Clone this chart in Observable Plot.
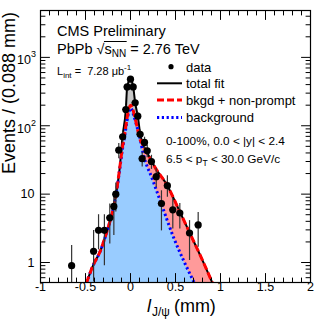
<!DOCTYPE html>
<html><head><meta charset="utf-8">
<script src="https://cdn.jsdelivr.net/npm/d3@7"></script>
<script src="https://cdn.jsdelivr.net/npm/@observablehq/plot@0.6"></script>
<style>
body{margin:0;background:#fff}
svg{font-family:"Liberation Sans",Arial,sans-serif}
</style>
</head><body><div id="chart"></div><script>
// ---- axis settings / tick labels ----
const xDomain = [-1, 2];
const yDomain = [0.51, 4850];
const xTickVals = [-1, -0.5, 0, 0.5, 1, 1.5, 2];
const xTickLabels = ["-1", "-0.5", "0", "0.5", "1", "1.5", "2"];
const yTickVals = [1, 10, 100, 1000];
const yTickBase = ["1", "10", "10", "10"];
const yTickExp = ["", "", "2", "3"];

// ---- data points (l_J/psi in mm, events per bin) ----
const ptX  = [-0.654,-0.41,-0.355,-0.29,-0.23,-0.185,-0.163,-0.13,-0.087,-0.052,-0.037,0.0,0.03,0.052,0.081,0.107,0.13,0.156,0.186,0.233,0.286,0.344,0.41,0.47,0.548,0.656,0.752];
const ptV  = [0.9,1.46,2.96,2.96,4.5,6.6,10,44,69,173,370,480,370,217,138,75,33,57,43,30,18,7.3,13.3,5.9,5.3,2.7,3.55];
const ptLo = [0.3,0.52,1.53,0.9,1.87,2.48,5.5,33,56,152,342,446,342,196,121,63,25,46,34,23,12.5,2.9,9,3.1,3.1,1.07,1.67];
const ptHi = [1.77,2.93,5.0,5.0,7.2,10.8,14.5,55,82,194,398,514,398,238,155,87,41,68,52,37,24,11.2,18.6,8.6,7.3,4.1,5.4];
const binHalf = 0.035;

// ---- fit curves ----
const totalX = [-0.49,-0.42,-0.333,-0.26,-0.20,-0.16,-0.12,-0.089,-0.052,-0.037,-0.015,0.0,0.015,0.03,0.052,0.081,0.111,0.14,0.2,0.278,0.407,0.533,0.667,0.789,0.911];
const totalV = [0.5,0.88,1.5,2.9,5.5,10,24,69,173,370,460,490,450,370,217,138,72,54,37,24,13.5,6.1,2.56,1.16,0.5];
const redX = [-0.49,-0.42,-0.333,-0.26,-0.20,-0.16,-0.12,-0.09,-0.065,-0.04,-0.015,0.005,0.025,0.045,0.07,0.096,0.14,0.2,0.278,0.407,0.533,0.667,0.789,0.911];
const redV = [0.5,0.88,1.5,2.9,5.5,10,24,48,75,125,185,200,175,140,100,69,52,37,24,13.5,6.1,2.56,1.16,0.5];
const blueX = [-0.49,-0.42,-0.333,-0.26,-0.20,-0.16,-0.12,-0.09,-0.065,-0.04,-0.015,0.005,0.03,0.06,0.1,0.148,0.24,0.341,0.48,0.6,0.71];
const blueV = [0.5,0.88,1.5,2.9,5.5,10,23,45,70,115,165,180,150,110,70,36,17,7.3,2.3,1.0,0.5];

const pts = ptX.map((x, i) => ({x, v: ptV[i], lo: ptLo[i], hi: ptHi[i]}));
const total = totalX.map((x, i) => ({x, v: totalV[i]}));
const red = redX.map((x, i) => ({x, v: redV[i]}));
const blue = blueX.map((x, i) => ({x, v: blueV[i]}));

const xMinor = d3.range(-10, 21).map(d => d / 10).filter(d => !xTickVals.includes(d));
const yMinor = [];
for (let k = -1; k <= 3; k++) for (let m = 2; m <= 9; m++) {
  const v = m * Math.pow(10, k);
  if (v >= yDomain[0] && v <= yDomain[1]) yMinor.push(v);
}

const tickShape = {draw(ctx, l) { ctx.moveTo(0, 0); ctx.lineTo(0, -l); }};
function ticks(data, ch, anchor, rot, len) {
  const o = {frameAnchor: anchor, length: len, anchor: "start", shape: tickShape, rotate: rot, stroke: "black", strokeWidth: 1};
  o[ch] = d => d;
  return Plot.vector(data, o);
}

const chart = Plot.plot({
  width: 332, height: 321,
  marginLeft: 40, marginRight: 22, marginTop: 10, marginBottom: 39,
  style: {fontFamily: "Liberation Sans", fontSize: "12.5px", background: "white"},
  x: {domain: xDomain, axis: null},
  y: {type: "log", domain: yDomain, axis: null},
  marks: [
    Plot.areaY(total, {x: "x", y1: yDomain[0], y2: "v", fill: "#c8c8c8", curve: "monotone-x", clip: true}),
    Plot.areaY(red, {x: "x", y1: yDomain[0], y2: "v", fill: "#ff9a9a", curve: "monotone-x", clip: true}),
    Plot.areaY(blue, {x: "x", y1: yDomain[0], y2: "v", fill: "#99ccff", curve: "monotone-x", clip: true}),
    Plot.line(total, {x: "x", y: "v", stroke: "black", strokeWidth: 2, curve: "monotone-x", clip: true}),
    Plot.line(blue, {x: "x", y: "v", stroke: "#0000ff", strokeWidth: 3, strokeDasharray: "2.2,2.6", strokeLinecap: "butt", curve: "monotone-x", clip: true}),
    Plot.line(red, {x: "x", y: "v", stroke: "#ff0000", strokeWidth: 3, strokeDasharray: "7,3", strokeLinecap: "butt", curve: "monotone-x", clip: true}),
    Plot.ruleX(pts, {x: "x", y1: "lo", y2: "hi", stroke: "#333", strokeWidth: 1.2, clip: true}),
    Plot.ruleY(pts, {y: "v", x1: d => d.x - binHalf, x2: d => d.x + binHalf, stroke: "#333", strokeWidth: 1.2, clip: true}),
    Plot.dot(pts, {x: "x", y: "v", r: 3.6, fill: "black", clip: true}),
    Plot.frame({stroke: "black", strokeWidth: 1.2}),
    ticks(xTickVals, "x", "bottom", 0, 9), ticks(xMinor, "x", "bottom", 0, 4.5),
    ticks(xTickVals, "x", "top", 180, 9), ticks(xMinor, "x", "top", 180, 4.5),
    ticks(yTickVals, "y", "left", 90, 9), ticks(yMinor, "y", "left", 90, 4.5),
    ticks(yTickVals, "y", "right", -90, 9), ticks(yMinor, "y", "right", -90, 4.5),
    Plot.text(xTickVals, {x: d => d, text: (d, i) => xTickLabels[i], frameAnchor: "bottom", dy: 8, fontSize: 12.5, fill: "black"}),
    Plot.text(yTickVals.filter((d, i) => !yTickExp[i]), {y: d => d, text: d => yTickBase[yTickVals.indexOf(d)], frameAnchor: "left", textAnchor: "end", dx: -6, dy: 0, fontSize: 12.5, fill: "black"}),
    Plot.text(yTickVals.filter((d, i) => yTickExp[i]), {y: d => d, text: d => yTickBase[yTickVals.indexOf(d)], frameAnchor: "left", textAnchor: "end", dx: -9.5, dy: 3, fontSize: 12.5, fill: "black"}),
    Plot.text(yTickVals.filter((d, i) => yTickExp[i]), {y: d => d, text: d => yTickExp[yTickVals.indexOf(d)], frameAnchor: "left", textAnchor: "start", dx: -9.5, dy: -3, fontSize: 9, fill: "black"})
  ]
});
document.getElementById("chart").appendChild(chart);

// ---- annotations ----
const svg = d3.select(chart);
function runs(x, y, items) {
  let cx = x; const out = [];
  for (const it of items) {
    const el = svg.append("text").attr("x", cx).attr("y", y + (it.dy || 0))
      .attr("text-anchor", "start").attr("font-size", it.size).attr("fill", "black")
      .style("white-space", "pre").text(it.t);
    if (it.italic) el.attr("font-style", "italic");
    const w = el.node().getComputedTextLength();
    out.push({x0: cx, x1: cx + w});
    cx += w + (it.gap || 0);
  }
  return out;
}
runs(57, 36, [{t: "CMS Preliminary", size: 14.5}]);
const r = runs(57, 53.5, [
  {t: "PbPb ", size: 14.5}, {t: "\u221A", size: 14.5}, {t: "s", size: 14.5},
  {t: "NN", size: 10, dy: 3.5}, {t: " = 2.76 TeV", size: 14.5}
]);
svg.append("line").attr("x1", r[1].x1 - 0.5).attr("x2", r[3].x1 + 0.5).attr("y1", 41.5).attr("y2", 41.5).attr("stroke", "black").attr("stroke-width", 1);
runs(57, 74.5, [
  {t: "L", size: 11}, {t: "int", size: 8, dy: 3}, {t: " =  7.28 \u03BCb", size: 11}, {t: "-1", size: 8, dy: -5}
]);
// legend
svg.append("circle").attr("cx", 171).attr("cy", 66.7).attr("r", 2.6).attr("fill", "black");
svg.append("line").attr("x1", 157).attr("x2", 182).attr("y1", 83.3).attr("y2", 83.3).attr("stroke", "black").attr("stroke-width", 2);
svg.append("line").attr("x1", 157).attr("x2", 182).attr("y1", 100).attr("y2", 100).attr("stroke", "#ff0000").attr("stroke-width", 3).attr("stroke-dasharray", "7,3");
svg.append("line").attr("x1", 157).attr("x2", 182).attr("y1", 117.5).attr("y2", 117.5).attr("stroke", "#0000ff").attr("stroke-width", 3).attr("stroke-dasharray", "2.2,2.6");
runs(186, 71.5, [{t: "data", size: 13}]);
runs(186, 88, [{t: "total fit", size: 13}]);
runs(186, 104.7, [{t: "bkgd + non-prompt", size: 13}]);
runs(186, 121.8, [{t: "background", size: 13}]);
runs(166, 145, [{t: "0-100%, 0.0 < |y| < 2.4", size: 11.8}]);
runs(166, 162.5, [{t: "6.5 < p", size: 11.8}, {t: "T", size: 8.5, dy: 3}, {t: " < 30.0 GeV/c", size: 11.8}]);
// axis titles
runs(147, 312, [{t: "l", size: 18, italic: true, gap: 1}, {t: "J/\u03C8", size: 12, dy: 4, gap: 4}, {t: "(mm)", size: 18}]);
svg.append("text").attr("transform", "translate(15,12) rotate(-90)").attr("text-anchor", "end")
  .attr("font-size", 18).attr("fill", "black").text("Events / (0.088 mm)");
</script></body></html>
